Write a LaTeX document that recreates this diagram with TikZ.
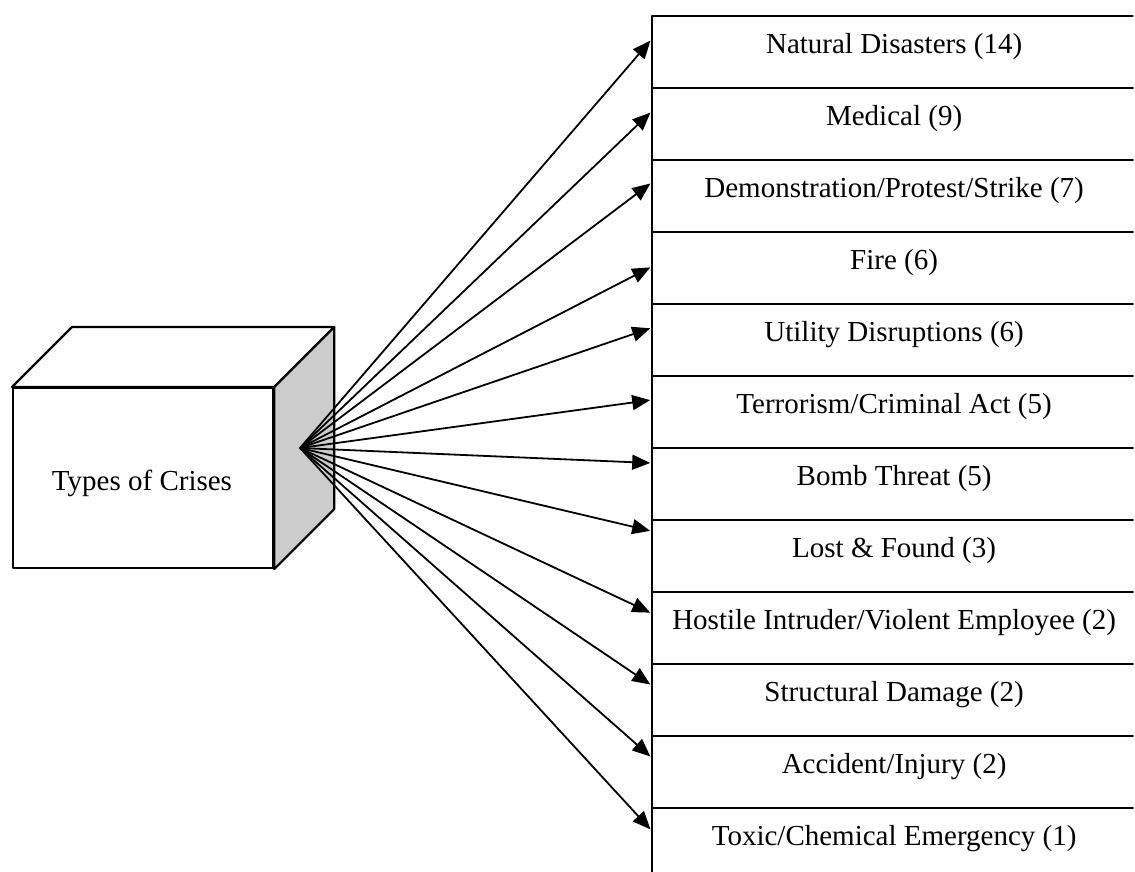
\documentclass[tikz,border=0pt]{standalone}
\usepackage{fontspec}
\setmainfont{Liberation Serif}
\usetikzlibrary{arrows.meta,calc}

\tikzset{
  outline/.style={line width=2.2pt, draw=black, line join=round},
  facegray/.style={fill=black!20},
  labelfont/.style={font=\fontsize{29}{34}\selectfont},
  rowbox/.style={outline, labelfont, rectangle, anchor=north west, inner xsep=0pt, inner ysep=0pt,
    minimum width=484pt, text height=37.5pt, text depth=34.5pt},
  link/.style={line width=1.8pt, -{Triangle[length=18pt,width=15pt]}, shorten >=0.8pt},
}

\begin{document}
\begin{tikzpicture}[x=1pt, y=-1pt]
\useasboundingbox (0,0) rectangle (1135,871);

% --- the cube: front face as a node, top and side faces built on its corners
\node[outline, rectangle, anchor=north west, minimum width=260pt, minimum height=180pt,
      inner sep=0pt] (cube) at (12,387) {};
\coordinate (tb) at ($(cube.north west)+(60,-60)$);
\coordinate (tr) at ($(cube.north east)+(60,-60)$);
\coordinate (br) at ($(cube.south east)+(60,-60)$);
\draw[outline, fill=white] (cube.north west) -- (tb) -- (tr) -- (cube.north east) -- cycle;
\draw[outline, facegray] (cube.north east) -- (tr) -- (br) -- (cube.south east) -- cycle;
\node[labelfont, anchor=base] (cubetext) at (142,490) {Types of Crises};

% point on the side face where all arrows start
\coordinate (hub) at (300,448);

% --- stacked list of categories; the right-hand edge is cut off by the clip
\begin{scope}
\clip (0,0) rectangle (1133.4,871);
\node[rowbox] (r1)  at (651,15)  {Natural Disasters (14)};
\node[rowbox] (r2)  at (651,87)  {Medical (9)};
\node[rowbox] (r3)  at (651,159) {Demonstration/Protest/Strike (7)};
\node[rowbox] (r4)  at (651,231) {Fire (6)};
\node[rowbox] (r5)  at (651,303) {Utility Disruptions (6)};
\node[rowbox] (r6)  at (651,375) {Terrorism/Criminal Act (5)};
\node[rowbox] (r7)  at (651,447) {Bomb Threat (5)};
\node[rowbox] (r8)  at (651,519) {Lost \& Found (3)};
\node[rowbox] (r9)  at (651,591) {Hostile Intruder/Violent Employee (2)};
\node[rowbox] (r10) at (651,663) {Structural Damage (2)};
\node[rowbox] (r11) at (651,735) {Accident/Injury (2)};
\node[rowbox] (r12) at (651,807) {Toxic/Chemical Emergency (1)};
\end{scope}

% --- arrows from the cube to each category
\foreach \r/\d in {r1/25, r2/25, r3/24, r4/36, r5/25, r6/25, r7/16, r8/12,
                   r9/22, r10/22, r11/22, r12/23} {
  \draw[link] (hub) -- ($(\r.north west)+(0,\d)$);
}
\end{tikzpicture}
\end{document}
